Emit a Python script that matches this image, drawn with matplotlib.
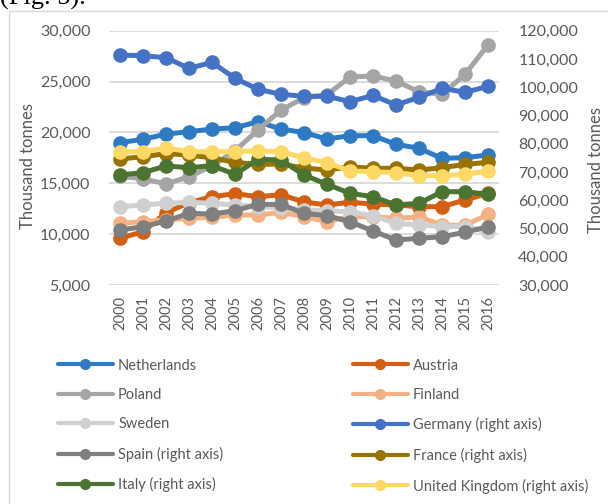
import matplotlib
matplotlib.use("Agg")
import matplotlib.pyplot as plt
from matplotlib.lines import Line2D
from matplotlib.patches import Rectangle
from matplotlib.ticker import FuncFormatter, MultipleLocator

plt.rcParams['font.family'] = ['Lato', 'DejaVu Sans']

years = [str(y) for y in range(2000, 2017)]

# Left axis (thousand tonnes)
netherlands = [19000, 19320, 19840, 20070, 20330, 20460, 21050, 20330, 19990, 19350, 19680, 19680, 18830, 18440, 17450, 17520, 17780]
austria = [9590, 10240, 12100, 13100, 13680, 13980, 13680, 13880, 13160, 12870, 13130, 12960, 12870, 12700, 12700, 13360, 14010]
poland = [15700, 15420, 14950, 15650, 16700, 18200, 20240, 22200, 23400, 23700, 25450, 25550, 25050, 24000, 23750, 25700, 28600]
finland = [11070, 11230, 11390, 11560, 11660, 11880, 11880, 12150, 11720, 11230, 11720, 11720, 11550, 11700, 10900, 10850, 11950]
sweden = [12700, 12870, 13030, 13130, 13030, 12870, 12700, 12600, 12400, 12300, 12200, 11800, 11070, 10900, 10750, 10750, 10200]

# Right axis (thousand tonnes)
germany = [111400, 111150, 110440, 106690, 108810, 103150, 99260, 97490, 96780, 96800, 94900, 97100, 93700, 96430, 99620, 98200, 100300]
spain = [49470, 50640, 52650, 55380, 55100, 56300, 58560, 58500, 55380, 54530, 52400, 49110, 45930, 46530, 47100, 48650, 50640]
france = [74600, 75400, 76500, 76000, 75000, 73400, 72700, 72800, 71400, 70700, 71800, 71300, 71300, 70700, 71500, 72700, 73400]
italy = [68930, 69750, 72120, 71520, 72230, 69180, 74490, 74240, 68930, 65640, 62460, 61250, 58320, 58900, 63020, 63020, 62100]
uk = [77180, 77180, 78500, 77180, 77180, 77180, 77530, 77180, 75000, 73290, 70350, 70100, 69750, 68690, 68690, 69180, 70350]

left_series = [
    ("Netherlands", netherlands, "#2E7BC4"),
    ("Austria", austria, "#D25F12"),
    ("Poland", poland, "#A5A5A5"),
    ("Finland", finland, "#F4B183"),
    ("Sweden", sweden, "#D0D0D0"),
]
right_series = [
    ("Germany (right axis)", germany, "#4472C4"),
    ("Spain (right axis)", spain, "#7F7F7F"),
    ("France (right axis)", france, "#997300"),
    ("Italy (right axis)", italy, "#4A7430"),
    ("United Kingdom (right axis)", uk, "#FFD966"),
]

W, H = 608, 504
fig = plt.figure(figsize=(W / 100, H / 100), dpi=100)

# chart frame
fig.add_artist(Rectangle((8.5 / W, -0.1), 1.2, 1.1 - 11 / H, transform=fig.transFigure,
                         fill=False, edgecolor="#D9D9D9", lw=1.0))
fig.text(0.0, 1 - 5 / H, "(Fig. 5).", family=["Liberation Serif"], fontsize=19,
         va="baseline", ha="left", color="black")

ax = fig.add_axes([108.5 / W, 1 - 285 / H, 391 / W, 254.3 / H])
ax2 = ax.twinx()

x = list(range(len(years)))
lw = 3.6
ms = 9.5
for name, vals, col in left_series:
    ax.plot(x, vals, color=col, lw=lw, marker="o", ms=ms, solid_capstyle="round", label=name)
for name, vals, col in right_series:
    ax2.plot(x, vals, color=col, lw=lw, marker="o", ms=ms, solid_capstyle="round", label=name)

ax.set_xlim(-0.5, len(years) - 0.5)
ax.set_ylim(5000, 30000)
ax2.set_ylim(30000, 120000)
ax.yaxis.set_major_locator(MultipleLocator(5000))
ax2.yaxis.set_major_locator(MultipleLocator(10000))
fmt = FuncFormatter(lambda v, p: f"{int(v):,}")
ax.yaxis.set_major_formatter(fmt)
ax2.yaxis.set_major_formatter(fmt)

ax.set_xticks(x)
ax.set_xticklabels(years, rotation=90, fontsize=10.5, color="#595959")
ax.grid(axis="y", color="#D9D9D9", lw=1.3)
ax.set_axisbelow(True)
for a in (ax, ax2):
    for s in a.spines.values():
        s.set_visible(False)
    a.tick_params(length=0)
ax.tick_params(axis="y", labelsize=11.5, labelcolor="#595959", pad=13)
ax2.tick_params(axis="y", labelsize=11.5, labelcolor="#595959", pad=13.5)
ax.tick_params(axis="x", pad=8)

ax.set_ylabel("Thousand tonnes", fontsize=12, color="#595959")
ax2.set_ylabel("Thousand tonnes", fontsize=12, color="#595959", rotation=90)
ax.yaxis.set_label_coords((28 - 108.5) / 391, (285 - 166) / 254.3)
ax2.yaxis.set_label_coords((596 - 108.5) / 391, (285 - 170) / 254.3)
ax.yaxis.label.set_va("center")
ax2.yaxis.label.set_va("center")

# legend in two columns (Excel row-major order: NL, AT / PL, FI / SE, DE / ES, FR / IT, UK)
def handle(col):
    return Line2D([], [], color=col, lw=3, marker="o", ms=7, solid_capstyle="round")

col1 = [left_series[0], left_series[2], left_series[4], right_series[1], right_series[3]]
col2 = [left_series[1], left_series[3], right_series[0], right_series[2], right_series[4]]
common = dict(frameon=False, fontsize=10.5, handlelength=3.77, handletextpad=0.35,
              labelspacing=1.06, borderpad=0, borderaxespad=0, labelcolor="#595959")
leg1 = fig.legend([handle(c) for _, _, c in col1], [n for n, _, _ in col1],
                  loc="upper left", bbox_to_anchor=(58 / W, 1 - 358.5 / H), **common)
leg2 = fig.legend([handle(c) for _, _, c in col2], [n for n, _, _ in col2],
                  loc="upper left", bbox_to_anchor=(353 / W, 1 - 358.5 / H), **common)

fig.savefig("out.png", dpi=100)
